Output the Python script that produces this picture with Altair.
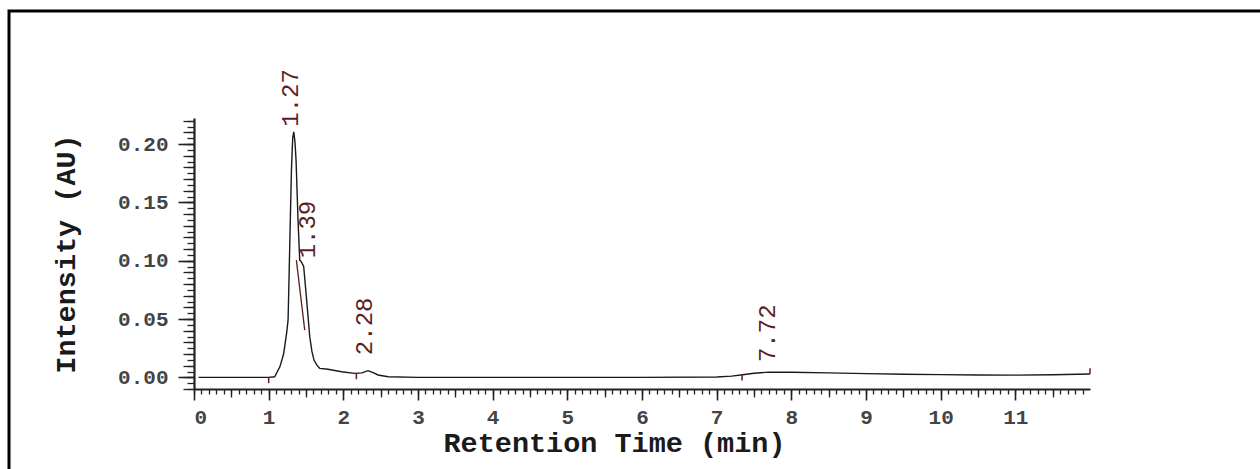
import altair as alt
import pandas as pd

# ---- chromatogram trace ----
time = [0.06, 1.0, 1.08, 1.15, 1.20, 1.24, 1.26, 1.28, 1.305, 1.322, 1.336, 1.352, 1.367,
        1.393, 1.416, 1.438, 1.469, 1.505, 1.55, 1.58, 1.607, 1.65, 1.684, 1.795, 1.975,
        2.153, 2.25, 2.331, 2.40, 2.465, 2.6, 3.0, 4.0, 5.0, 6.0, 7.0, 7.2, 7.35, 7.5,
        7.7, 8.0, 8.5, 9.0, 9.5, 10.0, 10.5, 11.0, 11.5, 12.0]
intensity = [0.0, 0.0, 0.0005, 0.009, 0.02, 0.0377, 0.049, 0.106, 0.178, 0.205, 0.2105, 0.202,
             0.186, 0.135, 0.1005, 0.099, 0.095, 0.069, 0.035, 0.022, 0.0148, 0.010, 0.0077,
             0.0069, 0.0048, 0.0034, 0.0038, 0.0057, 0.004, 0.002, 0.0005, 0.0, 0.0, 0.0,
             0.0, 0.0003, 0.001, 0.0022, 0.0035, 0.0045, 0.0043, 0.0038, 0.0032, 0.0027,
             0.0023, 0.002, 0.0019, 0.0022, 0.0028]

# ---- peak annotations ----
peak_labels = ["1.27", "1.39", "2.28", "7.72"]
peak_label_x = [1.305, 1.527, 2.287, 7.685]
peak_label_y = [0.2148, 0.102, 0.019, 0.0131]

# ---- integration markers ----
marker_x = [1.0, 2.175, 7.34, 12.0]
marker_y = [0.0, 0.0034, 0.0022, 0.0028]
marker_y2 = [-0.005, -0.0016, -0.0028, 0.0078]
drop_x = [1.371, 1.483]
drop_y = [0.1005, 0.0405]

# ---- axis tick values ----
x_major = list(range(0, 12))
x_minor = [round(i * 0.1, 1) for i in range(0, 120)]
x_mid = [k + 0.5 for k in range(0, 12)]
y_major = [0.0, 0.05, 0.10, 0.15, 0.20]
y_minor = [round(-0.01 + i * 0.005, 3) for i in range(0, 47)]
y_mid = [round(-0.01 + i * 0.01, 3) for i in range(0, 24)]

W, H = 896, 271
XDOM = [0, 12.0]
YDOM = [-0.01, 0.2223]
FONT = "Liberation Mono"
AX = "#222222"
RED = "#5b1f1f"

trace = pd.DataFrame({"t": time, "v": intensity})
peaks = pd.DataFrame({"t": peak_label_x, "v": peak_label_y, "label": peak_labels})
marks = pd.DataFrame({"t": marker_x, "v": marker_y, "v2": marker_y2})
drop = pd.DataFrame({"t": drop_x, "v": drop_y})

xs = alt.Scale(domain=XDOM, nice=False, zero=False)
ys = alt.Scale(domain=YDOM, nice=False, zero=False)

common_axis = dict(grid=False, tickColor=AX, domainColor=AX, labelFont=FONT,
                   labelColor="#444444", labelFontWeight="bold", labelFontSize=21)

x_axis_major = alt.Axis(values=x_major, tickSize=11, tickWidth=1.6, domainWidth=2.2,
                        labelFlush=True, labelPadding=6, orient="bottom",
                        title="Retention Time (min)", titleFont=FONT, titleFontSize=28.5,
                        titleFontWeight="bold", titleColor="#1a1a1a", titleX=420, titleY=62,
                        titleAlign="center", titleBaseline="alphabetic", **common_axis)
y_axis_major = alt.Axis(values=y_major, tickSize=16, tickWidth=1.6, domainWidth=2.2,
                        format=".2f", labelPadding=10, orient="left",
                        title="Intensity (AU)", titleFont=FONT, titleFontSize=28.5,
                        titleFontWeight="bold", titleColor="#1a1a1a", titleX=-129,
                        titleY=135.5, titleAngle=270, titleAlign="center",
                        titleBaseline="middle", **common_axis)

line = alt.Chart(trace).mark_line(color="#1a1a1a", strokeWidth=1.4).encode(
    x=alt.X("t:Q", scale=xs, axis=x_axis_major),
    y=alt.Y("v:Q", scale=ys, axis=y_axis_major),
)


def tick_layer(xvals, yvals, xsize, ysize):
    return alt.Chart(trace).mark_line(strokeOpacity=0).encode(
        x=alt.X("t:Q", scale=xs, axis=alt.Axis(values=xvals, tickSize=xsize, tickWidth=1.3,
                                               tickColor=AX, labels=False, domain=False,
                                               grid=False, title=None, orient="bottom")),
        y=alt.Y("v:Q", scale=ys, axis=alt.Axis(values=yvals, tickSize=ysize, tickWidth=1.3,
                                               tickColor=AX, labels=False, domain=False,
                                               grid=False, title=None, orient="left")),
    )


minor = tick_layer(x_minor, y_minor, 5, 7)
mid = tick_layer(x_mid, y_mid, 8, 11)

labels = alt.Chart(peaks).mark_text(angle=270, align="left", baseline="middle",
                                    font=FONT, fontSize=24, color=RED).encode(
    x=alt.X("t:Q", scale=xs, axis=None), y=alt.Y("v:Q", scale=ys, axis=None),
    text="label:N")

markers = alt.Chart(marks).mark_rule(color=RED, strokeWidth=1.5).encode(
    x=alt.X("t:Q", scale=xs, axis=None), y=alt.Y("v:Q", scale=ys, axis=None), y2="v2:Q")

dropline = alt.Chart(drop).mark_line(color=RED, strokeWidth=1.3).encode(
    x=alt.X("t:Q", scale=xs, axis=None), y=alt.Y("v:Q", scale=ys, axis=None))

frame = alt.Chart(alt.Data(values=[{}])).mark_rect(
    filled=False, stroke="#000000", strokeWidth=3).encode(
    x=alt.value(-185), x2=alt.value(1400), y=alt.value(-107), y2=alt.value(500))

chart = alt.layer(frame, line, minor, mid, dropline, markers, labels).resolve_axis(
    x="independent", y="independent"
).properties(
    width=W, height=H,
    autosize=alt.AutoSizeParams(type="none"),
    padding={"left": 194, "top": 118, "right": 170, "bottom": 80},
    background="white",
).configure_view(stroke=None)

chart.save("out.html", embed_options={"renderer": "svg", "actions": False})
